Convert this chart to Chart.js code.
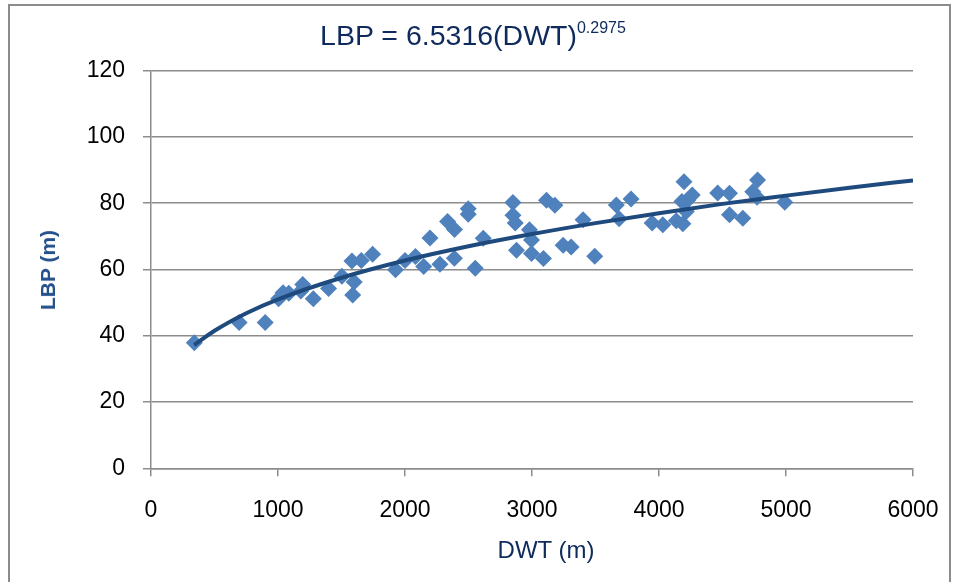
<!DOCTYPE html>
<html>
<head>
<meta charset="utf-8">
<script src="https://cdn.jsdelivr.net/npm/chart.js@4.4.1/dist/chart.umd.min.js"></script>
<style>
  html, body { margin: 0; padding: 0; background: #fff; }
  #wrap { position: relative; width: 956px; height: 582px; overflow: hidden; font-family: "Liberation Sans", Arial, sans-serif; }
  #frame { position: absolute; left: 8px; top: 4px; width: 943px; height: 620px; border: 2px solid #8c8c8c; box-sizing: border-box; }
  #title { position: absolute; left: 0; width: 946px; top: 19px; text-align: center; font-size: 28.5px; color: #0f2a5c; white-space: nowrap; }
  #title sup { font-size: 16px; vertical-align: 12px; line-height: 0; }
  #xTitle { position: absolute; left: 0; width: 1092px; top: 536px; text-align: center; font-size: 24px; color: #0f2a5c; }
  #yTitle { position: absolute; left: 48px; top: 270px; transform: translate(-50%, -50%) rotate(-90deg); font-size: 21px; font-weight: bold; color: #24508c; white-space: nowrap; }
  canvas { position: absolute; left: 0; top: 0; }
</style>
</head>
<body>
<div id="wrap">
  <div id="frame"></div>
  <canvas id="chart" width="956" height="582"></canvas>
  <div id="title">LBP = 6.5316(DWT)<sup>0.2975</sup></div>
  <div id="yTitle">LBP (m)</div>
  <div id="xTitle">DWT (m)</div>
</div>
<script>
// observed ships: deadweight vs length between perpendiculars
const dwtValues = [341, 694, 899, 1005, 1040, 1085, 1195, 1180, 1278, 1398, 1503, 1582, 1656, 1600, 1588, 1745,
  1925, 2000, 2082, 2147, 2197, 2275, 2335, 2390, 2389, 2498, 2498, 2553, 2616, 2850, 2850, 2868, 2878, 2980,
  2996, 2996, 3090, 3114, 3180, 3245, 3308, 3402, 3494, 3664, 3686, 3780, 3946, 4030, 4136, 4188, 4197, 4180,
  4228, 4262, 4215, 4462, 4555, 4555, 4660, 4776, 4738, 4772, 4990];
const lbpValues = [37.9, 44.0, 44.0, 51.2, 53.0, 52.8, 55.5, 53.5, 51.2, 54.3, 58.0, 62.6, 62.7, 56.2, 52.3, 64.6,
  59.9, 62.7, 63.9, 60.9, 69.5, 61.6, 74.5, 72.1, 63.4, 78.3, 76.7, 60.4, 69.4, 80.2, 76.4, 74.0, 65.8, 72.0,
  68.9, 64.8, 63.3, 80.9, 79.4, 67.3, 66.8, 75.0, 64.0, 79.5, 75.3, 81.3, 74.0, 73.5, 74.7, 73.8, 86.5, 80.5,
  81.0, 82.5, 77.5, 83.1, 83.0, 76.5, 75.5, 87.0, 83.5, 81.8, 80.3];

// power trendline
const trendDwt = [340, 500, 750, 1000, 1500, 2000, 2500, 3000, 3500, 4000, 4500, 5000, 5500, 6000];
const trendLbp = [37.2, 41.5, 46.8, 51.0, 57.5, 62.7, 67.0, 70.7, 74.0, 77.0, 79.8, 82.3, 84.7, 86.9];

const xMin = 0, xMax = 6000, xStep = 1000;
const yMin = 0, yMax = 120, yStep = 20;

const gridGray = '#8c8c8c';
const tickFont = { family: '"Liberation Sans", Arial, sans-serif', size: 23 };

const ctx = document.getElementById('chart').getContext('2d');
new Chart(ctx, {
  type: 'scatter',
  data: {
    datasets: [
      {
        label: 'Power (LBP)',
        data: trendDwt.map((x, i) => ({ x: x, y: trendLbp[i] })),
        showLine: true,
        borderColor: '#1f4a7d',
        borderWidth: 4,
        pointRadius: 0,
        pointHoverRadius: 0,
        cubicInterpolationMode: 'monotone',
        order: 0
      },
      {
        label: 'LBP',
        data: dwtValues.map((x, i) => ({ x: x, y: lbpValues[i] })),
        pointStyle: 'rectRot',
        pointRadius: 8.5,
        pointHoverRadius: 8.5,
        backgroundColor: '#4f81bd',
        borderWidth: 0,
        order: 1
      }
    ]
  },
  options: {
    responsive: false,
    animation: false,
    events: [],
    layout: { padding: { top: 70.7, right: 43, left: 0, bottom: 0 } },
    plugins: { legend: { display: false }, tooltip: { enabled: false }, title: { display: false } },
    scales: {
      x: {
        type: 'linear',
        min: xMin, max: xMax,
        afterFit: (scale) => { scale.height = 113.7; scale.paddingLeft = 0; scale.paddingRight = 0; },
        ticks: { stepSize: xStep, color: '#000', padding: 21, maxRotation: 0, font: tickFont,
                 callback: (v) => String(v) },
        grid: { drawOnChartArea: false, drawTicks: true, tickLength: 8, color: gridGray, lineWidth: 1.5 },
        border: { display: true, color: gridGray, width: 1.5 }
      },
      y: {
        type: 'linear',
        min: yMin, max: yMax,
        afterFit: (scale) => { scale.width = 151; scale.paddingTop = 0; scale.paddingBottom = 0; },
        ticks: { stepSize: yStep, color: '#000', padding: 18, font: tickFont,
                 callback: (v) => String(v) },
        grid: { drawOnChartArea: true, drawTicks: true, tickLength: 8, color: gridGray, lineWidth: 1.5 },
        border: { display: true, color: gridGray, width: 1.5 }
      }
    }
  }
});
</script>
</body>
</html>
